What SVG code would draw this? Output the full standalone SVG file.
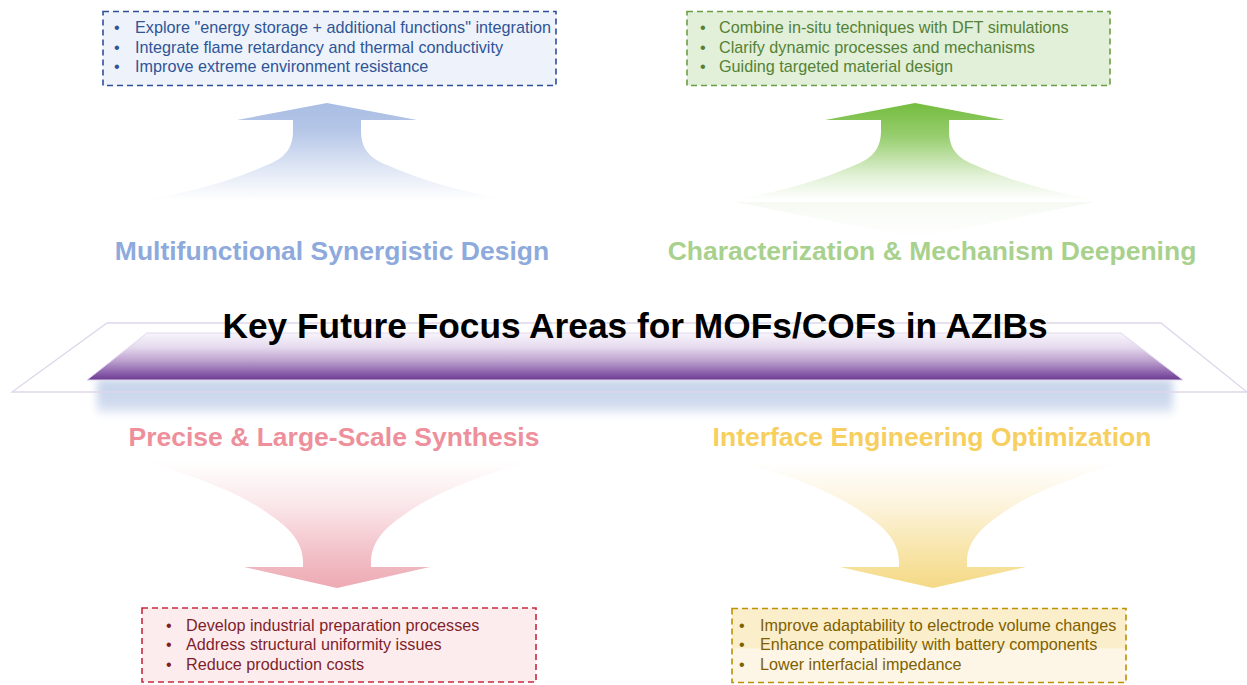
<svg xmlns="http://www.w3.org/2000/svg" width="1247" height="685" viewBox="0 0 1247 685">
  <style>
    .sans { font-family: "Liberation Sans", Arial, sans-serif; }
    .head { font-family: "Liberation Sans", Arial, sans-serif; font-weight: bold; font-size: 26.5px; text-anchor: middle; }
    .item { font-family: "Liberation Sans", Arial, sans-serif; font-size: 16.2px; }
    .box { stroke-width: 1.6; stroke-dasharray: 6 4; }
  </style>
  <defs>
    <linearGradient id="gBlueUp" x1="0" y1="0" x2="0" y2="1">
      <stop offset="0" stop-color="#a9bde3"/>
      <stop offset="0.3" stop-color="#b6c7e8"/>
      <stop offset="0.65" stop-color="#dde5f4"/>
      <stop offset="1" stop-color="#ffffff"/>
    </linearGradient>
    <linearGradient id="gGreenUp" x1="0" y1="0" x2="0" y2="1">
      <stop offset="0" stop-color="#74bd3f"/>
      <stop offset="0.35" stop-color="#98ce70"/>
      <stop offset="0.75" stop-color="#e2f1d6"/>
      <stop offset="1" stop-color="#ffffff"/>
    </linearGradient>
    <linearGradient id="gGreenRefl" x1="0" y1="0" x2="0" y2="1">
      <stop offset="0" stop-color="#f1f7eb"/>
      <stop offset="1" stop-color="#ffffff"/>
    </linearGradient>
    <linearGradient id="gPinkDown" x1="0" y1="0" x2="0" y2="1">
      <stop offset="0" stop-color="#ffffff"/>
      <stop offset="0.35" stop-color="#fae6e9"/>
      <stop offset="0.7" stop-color="#f3c3ca"/>
      <stop offset="1" stop-color="#eda9b3"/>
    </linearGradient>
    <linearGradient id="gYellowDown" x1="0" y1="0" x2="0" y2="1">
      <stop offset="0" stop-color="#ffffff"/>
      <stop offset="0.35" stop-color="#fcf3db"/>
      <stop offset="0.7" stop-color="#f8e5aa"/>
      <stop offset="1" stop-color="#f4d985"/>
    </linearGradient>
    <linearGradient id="gBand" x1="0" y1="0" x2="0" y2="1">
      <stop offset="0" stop-color="#f8f5fb"/>
      <stop offset="0.3" stop-color="#e5daee"/>
      <stop offset="0.6" stop-color="#bb9fcd"/>
      <stop offset="0.85" stop-color="#8a5fab"/>
      <stop offset="1" stop-color="#6b3a90"/>
    </linearGradient>
    <linearGradient id="gShadow" x1="0" y1="0" x2="0" y2="1">
      <stop offset="0" stop-color="#c6d3ea"/>
      <stop offset="0.7" stop-color="#cfdaee"/>
      <stop offset="1" stop-color="#eef2f9"/>
    </linearGradient>
    <filter id="soft" x="-5%" y="-50%" width="110%" height="200%">
      <feGaussianBlur stdDeviation="4"/>
    </filter>
    <path id="upArrow" d="M0,0 L90,17 L34,17 L34,28 C34,45 42,55 60,62 C85,73 120,86 182,97 L-182,97 C-120,86 -85,73 -60,62 C-42,55 -34,45 -34,28 L-34,17 L-90,17 Z"/>
    <path id="downArrow" d="M-190,0 L190,0 C130,18 90,35 64,55 C42,70 34,85 34,100 L34,105 L93,105 L0,126 L-93,105 L-34,105 L-34,100 C-34,85 -42,70 -64,55 C-90,35 -130,18 -190,0 Z"/>
  </defs>

  <rect width="1247" height="685" fill="#ffffff"/>

  <!-- central focus band -->
  <g id="center-band">
    <rect x="97" y="379" width="1076" height="35" fill="url(#gShadow)" filter="url(#soft)"/>
    <polygon points="107,323 1161,323 1247,392 12,392" fill="none" stroke="#ded6ea" stroke-width="1.3"/>
    <polygon points="147,333 1121,333 1183,380 87,380" fill="url(#gBand)" stroke="#e2d8ee" stroke-width="1"/>
    <text class="sans" x="635" y="338" text-anchor="middle" font-size="35.3" font-weight="bold" fill="#000000">Key Future Focus Areas for MOFs/COFs in AZIBs</text>
  </g>

  <!-- arrows joining the band to each focus area -->
  <g id="connectors">
    <use href="#upArrow" transform="translate(327,103)" fill="url(#gBlueUp)"/>
    <polygon points="735,202 1095,202 915,238" fill="url(#gGreenRefl)" opacity="0.6"/>
    <use href="#upArrow" transform="translate(915,103)" fill="url(#gGreenUp)"/>
    <use href="#downArrow" transform="translate(337,462)" fill="url(#gPinkDown)"/>
    <use href="#downArrow" transform="translate(933,462)" fill="url(#gYellowDown)"/>
  </g>

  <!-- Multifunctional Synergistic Design -->
  <g id="multifunctional">
    <text class="head" x="332" y="260" fill="#8eaadc">Multifunctional Synergistic Design</text>
    <rect class="box" x="103" y="11.5" width="453" height="74" fill="#eef2fa" stroke="#2f4f9c"/>
    <g class="item" fill="#2f5597">
      <text x="114" y="33">•</text><text x="135" y="33">Explore "energy storage + additional functions" integration</text>
      <text x="114" y="52.5">•</text><text x="135" y="52.5">Integrate flame retardancy and thermal conductivity</text>
      <text x="114" y="72">•</text><text x="135" y="72">Improve extreme environment resistance</text>
    </g>
  </g>

  <!-- Characterization & Mechanism Deepening -->
  <g id="characterization">
    <text class="head" x="932" y="260" fill="#a9d18e">Characterization &amp; Mechanism Deepening</text>
    <rect class="box" x="687" y="11.5" width="423" height="74" fill="#e2efd9" stroke="#6a9f43"/>
    <g class="item" fill="#548235">
      <text x="700" y="33">•</text><text x="719" y="33">Combine in-situ techniques with DFT simulations</text>
      <text x="700" y="52.5">•</text><text x="719" y="52.5">Clarify dynamic processes and mechanisms</text>
      <text x="700" y="72">•</text><text x="719" y="72">Guiding targeted material design</text>
    </g>
  </g>

  <!-- Precise & Large-Scale Synthesis -->
  <g id="synthesis">
    <text class="head" x="334" y="446" fill="#ee909c">Precise &amp; Large-Scale Synthesis</text>
    <rect class="box" x="142" y="608" width="394" height="74" fill="#fcecee" stroke="#c8283e"/>
    <g class="item" fill="#7f1f2c">
      <text x="166" y="630.5">•</text><text x="186" y="630.5">Develop industrial preparation processes</text>
      <text x="166" y="650">•</text><text x="186" y="650">Address structural uniformity issues</text>
      <text x="166" y="669.5">•</text><text x="186" y="669.5">Reduce production costs</text>
    </g>
  </g>

  <!-- Interface Engineering Optimization -->
  <g id="interface">
    <text class="head" x="932" y="446" fill="#f6cf60">Interface Engineering Optimization</text>
    <rect x="732" y="608.5" width="394" height="74" fill="#fdf6e6"/>
    <rect x="732" y="608.5" width="394" height="40" fill="#fbeecb"/>
    <rect class="box" x="732" y="608.5" width="394" height="74" fill="none" stroke="#bf9000"/>
    <g class="item" fill="#7f6000">
      <text x="739" y="631">•</text><text x="760" y="631">Improve adaptability to electrode volume changes</text>
      <text x="739" y="650">•</text><text x="760" y="650">Enhance compatibility with battery components</text>
      <text x="739" y="669.5">•</text><text x="760" y="669.5">Lower interfacial impedance</text>
    </g>
  </g>
</svg>
